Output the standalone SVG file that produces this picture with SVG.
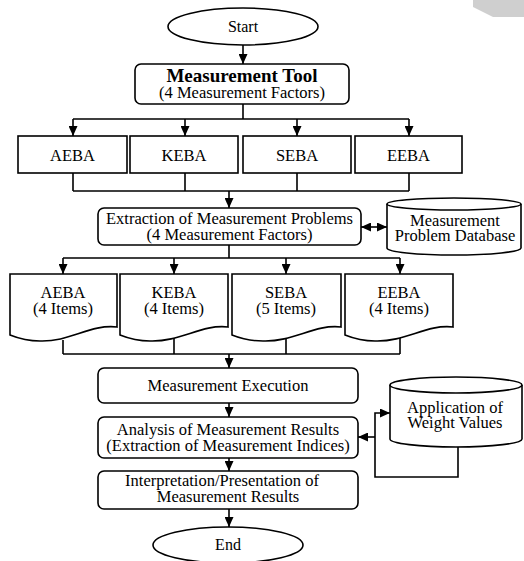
<svg xmlns="http://www.w3.org/2000/svg" width="524" height="561" viewBox="0 0 524 561">
<defs>
<style>
.s{fill:#fff;stroke:#000;stroke-width:1.6}
.c{fill:none;stroke:#000;stroke-width:1.6}
.t{font-family:"Liberation Serif","Times New Roman",serif;font-size:16.5px;fill:#000;text-anchor:middle}
.b{font-weight:bold;font-size:19px}
.m{font-size:16px}
</style>
<marker id="ah" markerUnits="userSpaceOnUse" markerWidth="10" markerHeight="9" refX="10" refY="4.5" orient="auto-start-reverse">
<path d="M0,0 L10,4.5 L0,9 Z" fill="#000"/>
</marker>
</defs>
<rect width="524" height="561" fill="#fff"/>
<polygon points="473,0 473,7 493,17 524,17 524,0" fill="#cfcfcf"/>

<g id="start">
<ellipse class="s" cx="243" cy="26.5" rx="75" ry="18.5"/>
<text class="t m" x="243" y="32">Start</text>
</g>
<g id="tool">
<rect class="s" x="135" y="64" width="214" height="40" rx="6"/>
<text class="t b" x="242" y="82">Measurement Tool</text>
<text class="t" x="242" y="98">(4 Measurement Factors)</text>
</g>
<g id="aeba1"><rect class="s" x="18" y="136" width="109" height="37"/><text class="t" x="72.5" y="161">AEBA</text></g>
<g id="keba1"><rect class="s" x="130" y="136" width="108" height="37"/><text class="t" x="184" y="161">KEBA</text></g>
<g id="seba1"><rect class="s" x="243" y="136" width="108" height="37"/><text class="t" x="297" y="161">SEBA</text></g>
<g id="eeba1"><rect class="s" x="355" y="136" width="107" height="37"/><text class="t" x="408.5" y="161">EEBA</text></g>
<g id="extraction">
<rect class="s" x="98" y="208" width="263" height="37" rx="6"/>
<text class="t" x="229.5" y="224">Extraction of Measurement Problems</text>
<text class="t" x="229.5" y="240">(4 Measurement Factors)</text>
</g>
<g id="database">
<path class="s" d="M387,204 V248 A67,7 0 0 0 521,248 V204"/>
<ellipse class="s" cx="454" cy="204" rx="67" ry="6"/>
<text class="t" x="455" y="226">Measurement</text>
<text class="t" x="455" y="241">Problem Database</text>
</g>
<g id="aeba2"><path class="s" d="M10,274 H117 V327 C90,324 70,342 40,341 C25,341 15,337 10,335 Z"/><text class="t" x="63" y="298">AEBA</text><text class="t" x="63" y="314">(4 Items)</text></g>
<g id="keba2"><path class="s" d="M120,274 H228 V327 C201,324 181,342 150,341 C135,341 125,337 120,335 Z"/><text class="t" x="174" y="298">KEBA</text><text class="t" x="174" y="314">(4 Items)</text></g>
<g id="seba2"><path class="s" d="M232,274 H341 V327 C314,324 294,342 263,341 C247,341 237,337 232,335 Z"/><text class="t" x="286" y="298">SEBA</text><text class="t" x="286" y="314">(5 Items)</text></g>
<g id="eeba2"><path class="s" d="M345,274 H453 V327 C426,324 406,342 375,341 C360,341 350,337 345,335 Z"/><text class="t" x="399" y="298">EEBA</text><text class="t" x="399" y="314">(4 Items)</text></g>
<g id="execution">
<rect class="s" x="98" y="368" width="260" height="35" rx="6"/>
<text class="t" x="228" y="391">Measurement Execution</text>
</g>
<g id="analysis">
<rect class="s" x="98" y="417" width="260" height="41" rx="6"/>
<text class="t" x="228" y="435">Analysis of Measurement Results</text>
<text class="t" x="228" y="451">(Extraction of Measurement Indices)</text>
</g>
<g id="interpretation">
<rect class="s" x="98" y="471" width="260" height="38" rx="6"/>
<text class="t" x="222" y="486">Interpretation/Presentation of</text>
<text class="t" x="228" y="502">Measurement Results</text>
</g>
<g id="weights">
<path class="s" d="M390,385 V439 A66,8 0 0 0 522,439 V385"/>
<ellipse class="s" cx="456" cy="385" rx="66" ry="8"/>
<text class="t" x="455" y="413">Application of</text>
<text class="t" x="455" y="428">Weight Values</text>
</g>
<g id="end">
<ellipse class="s" cx="228" cy="545" rx="75" ry="18"/>
<text class="t m" x="228" y="550">End</text>
</g>

<g id="connectors">
<path class="c" d="M243,45 V64" marker-end="url(#ah)"/>
<path class="c" d="M243,104 V119 M73,119 H409"/>
<path class="c" d="M73,119 V136" marker-end="url(#ah)"/>
<path class="c" d="M185,119 V136" marker-end="url(#ah)"/>
<path class="c" d="M297,119 V136" marker-end="url(#ah)"/>
<path class="c" d="M409,119 V136" marker-end="url(#ah)"/>
<path class="c" d="M73,173 V191 M185,173 V191 M297,173 V191 M409,173 V191 M73,191 H409"/>
<path class="c" d="M229,191 V208" marker-end="url(#ah)"/>
<path class="c" d="M361,227 H387" marker-start="url(#ah)" marker-end="url(#ah)"/>
<path class="c" d="M229,245 V258 M63,258 H400"/>
<path class="c" d="M63,258 V274" marker-end="url(#ah)"/>
<path class="c" d="M174,258 V274" marker-end="url(#ah)"/>
<path class="c" d="M286,258 V274" marker-end="url(#ah)"/>
<path class="c" d="M400,258 V274" marker-end="url(#ah)"/>
<path class="c" d="M63,340 V354 M174,338 V354 M286,338 V354 M400,338 V354 M63,354 H400"/>
<path class="c" d="M229,354 V368" marker-end="url(#ah)"/>
<path class="c" d="M229,403 V417" marker-end="url(#ah)"/>
<path class="c" d="M229,458 V471" marker-end="url(#ah)"/>
<path class="c" d="M229,509 V527" marker-end="url(#ah)"/>
<path class="c" d="M458,447 V477 H375 V413 H390" marker-end="url(#ah)"/>
<path class="c" d="M375,437 H358" marker-end="url(#ah)"/>
</g>
</svg>
